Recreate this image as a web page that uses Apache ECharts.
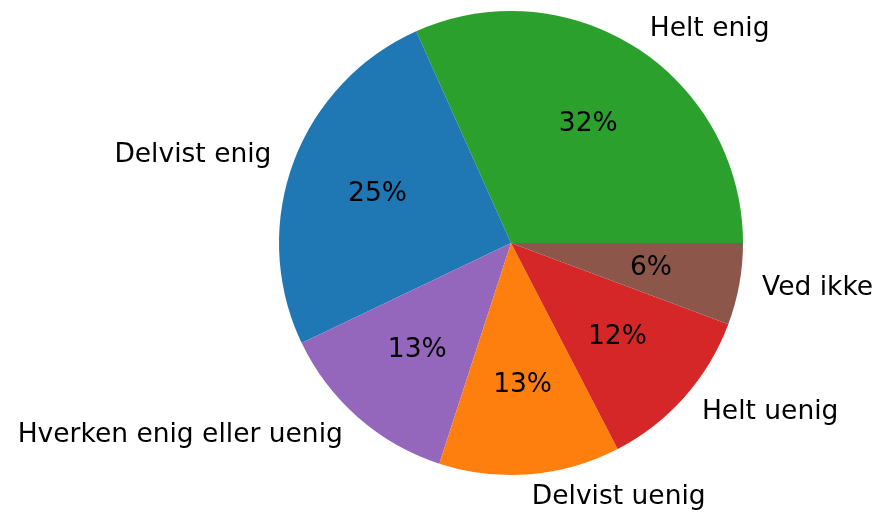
<!DOCTYPE html>
<html>
<head>
<meta charset="utf-8">
<script src="https://cdn.jsdelivr.net/npm/echarts@6/dist/echarts.min.js"></script>
<style>
  html, body { margin: 0; padding: 0; background: #fff; }
  #main { width: 881px; height: 514px; }
</style>
</head>
<body>
<div id="main"></div>
<script>
// svar (andeler i prosent), rekkefølge mot klokka fra kl. 3
var categories = ['Helt enig', 'Delvist enig', 'Hverken enig eller uenig', 'Delvist uenig', 'Helt uenig', 'Ved ikke'];
var values = [31.7, 25.4, 12.9, 12.6, 11.7, 5.7];
var colors = ['#2ca02c', '#1f77b4', '#9467bd', '#ff7f0e', '#d62728', '#8c564b'];

var myChart = echarts.init(document.getElementById('main'));

var total = values.reduce(function (a, b) { return a + b; }, 0);
var data = categories.map(function (name, i) {
  return { name: name, value: values[i], itemStyle: { color: colors[i] } };
});

var R = 232;
var font = 'DejaVu Sans';

option = {
  backgroundColor: '#ffffff',
  animation: false,
  series: [
    {
      // kakestykkene + kategorinavn utenfor
      type: 'pie',
      center: [511, 243],
      radius: [0, R],
      startAngle: 0,
      clockwise: false,
      avoidLabelOverlap: false,
      silent: true,
      label: {
        show: true,
        position: 'outside',
        distanceToLabelLine: 0,
        fontFamily: font,
        fontSize: 26.5,
        color: '#000'
      },
      labelLine: { show: false, length: R * 0.1, length2: 0 },
      data: data
    },
    {
      // usynlig ring bare for prosent-tekstene (0.6 R)
      type: 'pie',
      center: [511, 243],
      radius: [0, R * 1.2],
      startAngle: 0,
      clockwise: false,
      avoidLabelOverlap: false,
      silent: true,
      itemStyle: { color: 'rgba(0,0,0,0)' },
      label: {
        show: true,
        position: 'inside',
        fontFamily: font,
        fontSize: 26.5,
        color: '#000',
        formatter: function (p) {
          return Math.round(p.value / total * 100) + '%';
        }
      },
      labelLine: { show: false },
      data: categories.map(function (name, i) {
        return { name: name, value: values[i] };
      })
    }
  ]
};

myChart.setOption(option);
</script>
</body>
</html>
